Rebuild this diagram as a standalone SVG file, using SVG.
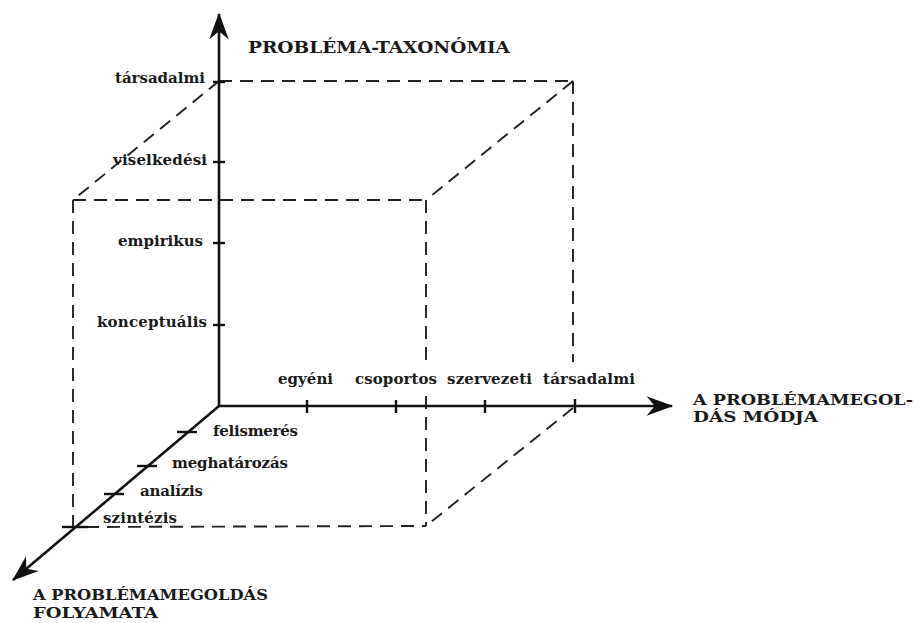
<svg xmlns="http://www.w3.org/2000/svg" width="916" height="623" viewBox="0 0 916 623">
  <style>
    .axis { stroke: #111; stroke-width: 2.6; fill: none; }
    .tick { stroke: #111; stroke-width: 2.4; fill: none; }
    .dash { stroke: #222; stroke-width: 1.9; fill: none; stroke-dasharray: 13 8; }
    .lbl { font-family: "DejaVu Serif", "Liberation Serif", serif; font-weight: bold; font-size: 15px; fill: #1a1a1a; }
    .cap { font-family: "DejaVu Serif", "Liberation Serif", serif; font-weight: bold; font-size: 14px; fill: #1a1a1a; }
    .title { font-size: 16px; }
  </style>
  <defs>
    <marker id="arrow" markerUnits="userSpaceOnUse" markerWidth="30" markerHeight="24" viewBox="-24 -10 26 20" refX="0" refY="0" orient="auto">
      <path d="M1,0 L-22,-8.5 L-15,0 L-22,8.5 Z" fill="#111"/>
    </marker>
  </defs>
  <rect width="916" height="623" fill="#fff"/>

  <!-- cube edges -->
  <g id="cube">
    <line class="dash" x1="219" y1="81" x2="573" y2="81"/>
    <line class="dash" x1="573" y1="81" x2="573" y2="362"/>
    <line class="dash" x1="573" y1="81" x2="426" y2="200"/>
    <line class="dash" x1="219" y1="81" x2="73" y2="200"/>
    <line class="dash" x1="73" y1="200" x2="426" y2="200"/>
    <line class="dash" x1="73" y1="200" x2="73" y2="527"/>
    <line class="dash" x1="426" y1="200" x2="426" y2="362"/>
    <line class="dash" x1="426" y1="396" x2="426" y2="526"/>
    <line class="dash" x1="86" y1="527" x2="426" y2="526"/>
    <line class="dash" x1="573" y1="408" x2="426" y2="526"/>
  </g>

  <!-- axes -->
  <g id="connectors">
    <line class="axis" x1="219" y1="407" x2="219" y2="14" marker-end="url(#arrow)"/>
    <line class="axis" x1="218" y1="406" x2="672" y2="406" marker-end="url(#arrow)"/>
    <line class="axis" x1="219" y1="406" x2="13" y2="580" marker-end="url(#arrow)"/>
  </g>

  <!-- taxonomy axis -->
  <g id="axis-taxonomy">
    <line class="tick" x1="213" y1="82" x2="225" y2="82"/>
    <line class="tick" x1="213" y1="162" x2="225" y2="162"/>
    <line class="tick" x1="213" y1="243" x2="225" y2="243"/>
    <line class="tick" x1="213" y1="325" x2="225" y2="325"/>
    <text class="cap title" x="248" y="53" textLength="262" lengthAdjust="spacingAndGlyphs">PROBLÉMA-TAXONÓMIA</text>
    <text class="lbl" x="115" y="83" textLength="90">társadalmi</text>
    <text class="lbl" x="113" y="165" textLength="94">viselkedési</text>
    <text class="lbl" x="118" y="246" textLength="85">empirikus</text>
    <text class="lbl" x="97" y="327" textLength="110">konceptuális</text>
  </g>

  <!-- mode axis -->
  <g id="axis-mode">
    <line class="tick" x1="307" y1="400" x2="307" y2="413"/>
    <line class="tick" x1="396" y1="400" x2="396" y2="413"/>
    <line class="tick" x1="485" y1="400" x2="485" y2="413"/>
    <line class="tick" x1="575" y1="399" x2="575" y2="413"/>
    <text class="lbl" x="278" y="384" textLength="55">egyéni</text>
    <text class="lbl" x="355" y="384" textLength="82">csoportos</text>
    <text class="lbl" x="447" y="384" textLength="85">szervezeti</text>
    <text class="lbl" x="543" y="384" textLength="92">társadalmi</text>
    <text class="cap" x="693" y="405" textLength="220" lengthAdjust="spacingAndGlyphs">A PROBLÉMAMEGOL-</text>
    <text class="cap" x="693" y="422" textLength="125" lengthAdjust="spacingAndGlyphs">DÁS  MÓDJA</text>
  </g>

  <!-- process axis -->
  <g id="axis-process">
    <line class="tick" x1="177" y1="432" x2="197" y2="432"/>
    <line class="tick" x1="137" y1="466" x2="157" y2="466"/>
    <line class="tick" x1="104" y1="494" x2="124" y2="494"/>
    <line class="tick" x1="62" y1="527" x2="88" y2="527"/>
    <text class="lbl" x="213" y="436" textLength="85">felismerés</text>
    <text class="lbl" x="172" y="468" textLength="116">meghatározás</text>
    <text class="lbl" x="140" y="496" textLength="63">analízis</text>
    <text class="lbl" x="103" y="523" textLength="74">szintézis</text>
    <text class="cap" x="33" y="600" textLength="235" lengthAdjust="spacingAndGlyphs">A PROBLÉMAMEGOLDÁS</text>
    <text class="cap" x="33" y="618" textLength="125" lengthAdjust="spacingAndGlyphs">FOLYAMATA</text>
  </g>
</svg>
